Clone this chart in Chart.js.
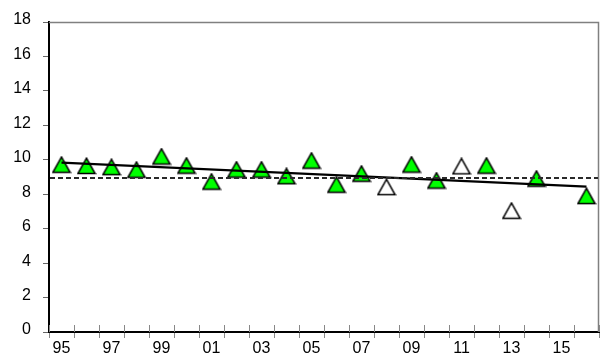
<!DOCTYPE html>
<html><head><meta charset="utf-8">
<script src="https://cdn.jsdelivr.net/npm/chart.js@4/dist/chart.umd.min.js"></script>
<style>html,body{margin:0;padding:0;background:#fff}#wrap{width:600px;height:364px;position:relative}</style>
</head><body><div id="wrap"><canvas id="c" width="600" height="364"></canvas></div>
<script>
const years = ['95','96','97','98','99','00','01','02','03','04','05','06','07','08','09','10','11','12','13','14','15','16'];
const tickLabels = ['95','','97','','99','','01','','03','','05','','07','','09','','11','','13','','15',''];
const greenValues = [9.71,9.64,9.57,9.42,10.19,9.66,8.73,9.43,9.43,9.04,9.95,8.55,9.19,null,9.72,8.79,null,9.66,null,8.90,null,7.89];
const whiteValues = [null,null,null,null,null,null,null,null,null,null,null,null,null,8.41,null,null,9.62,null,7.04,null,null,null];
const trendValues = [9.83,null,null,null,null,null,null,null,null,null,null,null,null,null,null,null,null,null,null,null,null,8.44];
const referenceLevel = [8.94];
const yTicks = [0,2,4,6,8,10,12,14,16,18];

function makeTri(fill){
  const c = document.createElement('canvas');
  c.width = 20; c.height = 18;
  const x = c.getContext('2d');
  x.beginPath();
  x.moveTo(10,1.2); x.lineTo(18.6,16.6); x.lineTo(1.4,16.6); x.closePath();
  x.fillStyle = fill; x.fill();
  x.lineWidth = 1.5; x.strokeStyle = '#000'; x.lineJoin = 'miter'; x.stroke();
  return c;
}
const triGreen = makeTri('#00ff00');
const triWhite = makeTri('#ffffff');

const framePlugin = {
  id: 'frame',
  beforeDatasetsDraw(chart){
    const {ctx, chartArea:a} = chart;
    ctx.save();
    ctx.strokeStyle = '#808080'; ctx.lineWidth = 1.5;
    ctx.beginPath();
    ctx.moveTo(a.left, a.top + 0.5); ctx.lineTo(a.right - 0.5, a.top + 0.5); ctx.lineTo(a.right - 0.5, a.bottom);
    ctx.stroke();
    ctx.restore();
  },
  afterDatasetsDraw(chart){
    const {ctx, chartArea:a, scales} = chart;
    const y = Math.round(scales.y.getPixelForValue(referenceLevel[0]));
    ctx.save();
    ctx.strokeStyle = '#2a2a2a'; ctx.lineWidth = 2; ctx.setLineDash([5,3]);
    ctx.beginPath(); ctx.moveTo(a.left+1, y); ctx.lineTo(a.right-1, y); ctx.stroke();
    ctx.setLineDash([]);
    ctx.strokeStyle = '#888'; ctx.lineWidth = 1;
    for (let i = 0; i <= years.length; i++) {
      const x = Math.round(scales.x.getPixelForValue(i - 0.5)) + 0.5;
      ctx.beginPath(); ctx.moveTo(x, a.bottom - 7); ctx.lineTo(x, a.bottom); ctx.stroke();
    }
    ctx.restore();
  }
};

new Chart(document.getElementById('c'), {
  type: 'line',
  data: {
    labels: years,
    datasets: [
      { data: trendValues, borderColor: '#000', borderWidth: 2.2, pointRadius: 0, spanGaps: true, order: 0, fill: false },
      { data: greenValues, showLine: false, pointStyle: triGreen, pointRadius: 9, order: 2 },
      { data: whiteValues, showLine: false, pointStyle: triWhite, pointRadius: 9, order: 3 }
    ]
  },
  options: {
    responsive: false,
    animation: false,
    devicePixelRatio: 1,
    layout: { autoPadding: false, padding: { top: 22, right: 1, left: 0, bottom: 0 } },
    plugins: { legend: { display: false }, tooltip: { enabled: false } },
    scales: {
      x: {
        offset: true,
        grid: { offset: true, drawOnChartArea: false, drawTicks: true, tickLength: 6, color: '#888' },
        border: { color: '#000', width: 2 },
        ticks: { autoSkip: false, maxRotation: 0, padding: 1, color: '#000',
                 font: { family: "'Liberation Sans', Arial, sans-serif", size: 16 },
                 callback: (v, i) => tickLabels[i] },
        afterFit: s => { s.height = 32; s.paddingLeft = 0; s.paddingRight = 0; }
      },
      y: {
        min: 0, max: 18,
        afterBuildTicks: s => { s.ticks = yTicks.map(v => ({ value: v })); },
        grid: { drawOnChartArea: false, drawTicks: true, tickLength: 6, color: '#666' },
        border: { color: '#000', width: 2 },
        ticks: { padding: 12, color: '#000', labelOffset: -2,
                 font: { family: "'Liberation Sans', Arial, sans-serif", size: 16 } },
        afterFit: s => { s.width = 49; s.paddingTop = 0; s.paddingBottom = 0; }
      }
    }
  },
  plugins: [framePlugin]
});
</script>
</body></html>
